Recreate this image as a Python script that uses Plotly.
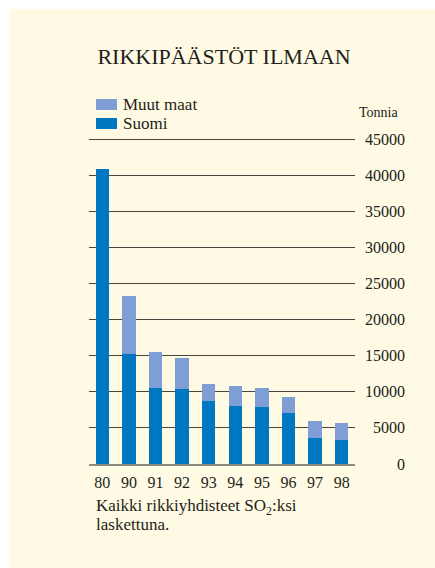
import plotly.graph_objects as go

# Sulfur emissions to air, tonnes (SO2 equivalent)
years = ["80", "90", "91", "92", "93", "94", "95", "96", "97", "98"]
suomi = [40900, 15300, 10500, 10400, 8700, 8000, 7900, 7100, 3600, 3300]
totals = [40900, 23200, 15500, 14700, 11100, 10800, 10500, 9300, 6000, 5700]
muut_maat = [t - s for t, s in zip(totals, suomi)]
y_ticks = [0, 5000, 10000, 15000, 20000, 25000, 30000, 35000, 40000, 45000]
y_tick_labels = [str(v) for v in y_ticks]

SUOMI_COLOR = "#0078C1"
MUUT_COLOR = "#7F9ED5"
CREAM = "#FFFAE3"
TEXT = "#231F20"
FONT = "Liberation Serif"

W, H = 435, 568
L, R, T, B = 89, 20, 135, 104
PW, PH = W - L - R, H - T - B


def px_x(x):
    return (x - L) / PW


def px_y(y):
    return (H - B - y) / PH


fig = go.Figure()
fig.add_trace(go.Bar(x=years, y=suomi, name="Suomi", marker_color=SUOMI_COLOR,
                     marker_line_width=0, showlegend=False))
fig.add_trace(go.Bar(x=years, y=muut_maat, name="Muut maat", marker_color=MUUT_COLOR,
                     marker_line_width=0, showlegend=False))

shapes = [
    # cream panel with a thin white border top and left
    dict(type="rect", xref="paper", yref="paper", layer="below",
         x0=px_x(9), x1=px_x(W + 5), y0=px_y(H + 5), y1=px_y(9),
         fillcolor=CREAM, line_width=0),
    # legend swatches
    dict(type="rect", xref="paper", yref="paper",
         x0=px_x(96), x1=px_x(117), y0=px_y(110), y1=px_y(99),
         fillcolor=MUUT_COLOR, line_width=0),
    dict(type="rect", xref="paper", yref="paper",
         x0=px_x(96), x1=px_x(117), y0=px_y(129), y1=px_y(118),
         fillcolor=SUOMI_COLOR, line_width=0),
]


def label(text, x, y, size, anchor="left"):
    return dict(text=text, x=px_x(x), y=px_y(y), xref="paper", yref="paper",
                xanchor=anchor, yanchor="middle", showarrow=False,
                font=dict(family=FONT, size=size, color=TEXT))


annotations = [
    label("Muut maat", 121, 104.5, 17),
    label("Suomi", 121, 123.5, 17),
    label("Tonnia", 357, 112, 14),
    label("Kaikki rikkiyhdisteet SO<sub>2</sub>:ksi", 94, 507, 17),
    label("laskettuna.", 94, 524, 17),
]

fig.update_layout(
    width=W, height=H,
    margin=dict(l=L, r=R, t=T, b=B, pad=0),
    paper_bgcolor="white",
    plot_bgcolor="rgba(0,0,0,0)",
    barmode="stack",
    bargap=0.5,
    title=dict(text="RIKKIPÄÄSTÖT ILMAAN", x=224 / W, y=1 - 56 / H,
               xref="container", yref="container",
               xanchor="center", yanchor="middle",
               font=dict(family=FONT, size=22, color=TEXT)),
    xaxis=dict(domain=[0, 266 / PW], range=[-0.5, 9.5], type="category",
               showgrid=False, showline=True, linecolor="#8C8C80", linewidth=2,
               ticks="", tickfont=dict(family=FONT, size=16, color=TEXT),
               ticklabelstandoff=3),
    yaxis=dict(range=[0, 45554], tickvals=y_ticks, ticktext=y_tick_labels,
               anchor="free", position=px_x(405), side="left",
               showgrid=True, gridcolor="#46463E", gridwidth=1.3,
               zeroline=False, showline=False, ticks="",
               tickfont=dict(family=FONT, size=16, color=TEXT),
               ticklabelstandoff=0),
    shapes=shapes,
    annotations=annotations,
    showlegend=False,
)

fig.write_html("out.html")
